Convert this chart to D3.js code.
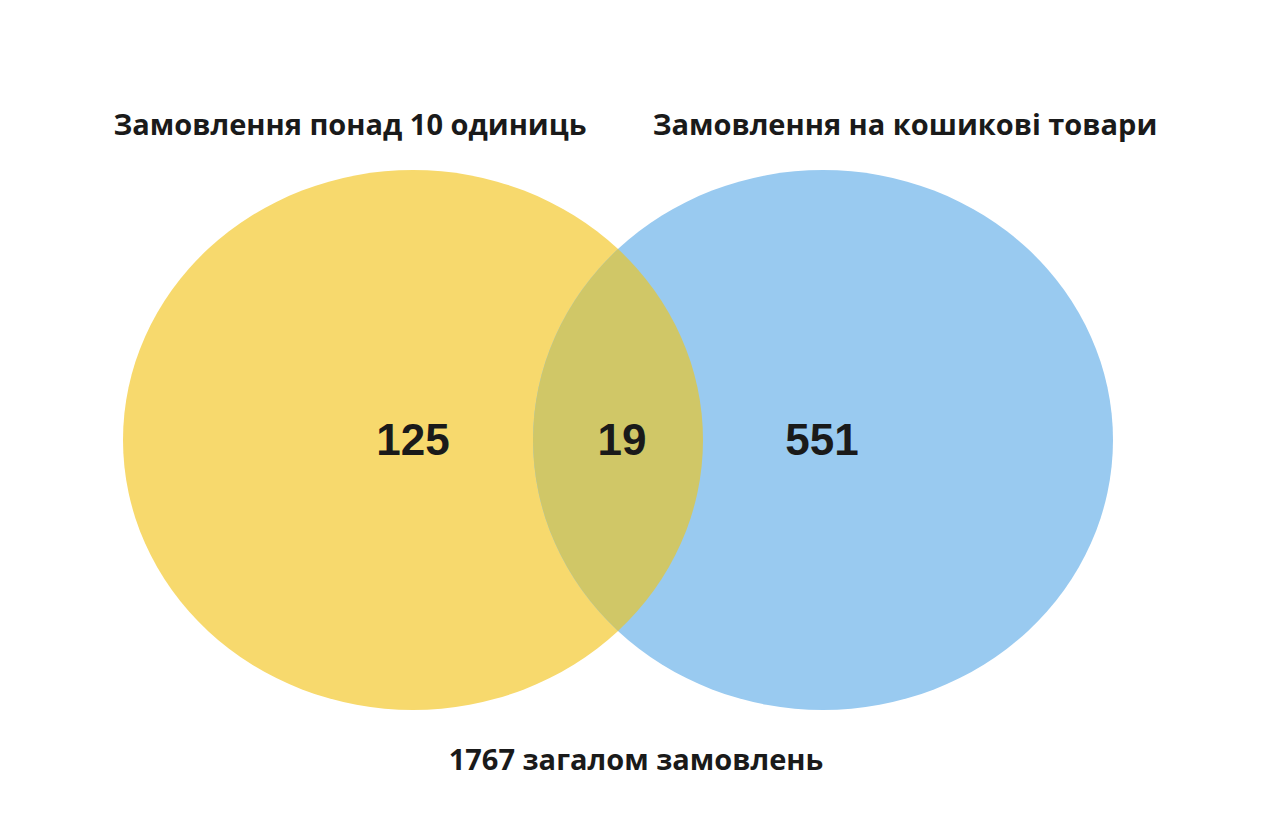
<!DOCTYPE html>
<html><head><meta charset="utf-8">
<script src="https://cdn.jsdelivr.net/npm/d3@7"></script>
<style>body{margin:0;background:#fff}</style></head>
<body><svg id="c" width="1272" height="832"></svg>
<script>
const setNames = ["Замовлення понад 10 одиниць", "Замовлення на кошикові товари"];
const regionValues = [125, 19, 551]; // left only, both, right only
const totalLabel = "1767 загалом замовлень";
const setColors = ["#f7d96d", "#99caf0"];
const overlapColor = "#d0c767";

const svg = d3.select("#c");
const x = d3.scaleLinear().domain([0, 1]).range([413, 823]);
const rx = 290, ry = 270, cy = 440;

const defs = svg.append("defs");
defs.append("clipPath").attr("id", "clipL").append("ellipse")
  .attr("cx", x(0)).attr("cy", cy).attr("rx", rx).attr("ry", ry);

svg.selectAll("ellipse.set").data(setNames).join("ellipse").attr("class", "set")
  .attr("cx", (d, i) => x(i)).attr("cy", cy).attr("rx", rx).attr("ry", ry)
  .attr("fill", (d, i) => setColors[i]);
svg.append("ellipse").attr("clip-path", "url(#clipL)")
  .attr("cx", x(1)).attr("cy", cy).attr("rx", rx).attr("ry", ry).attr("fill", overlapColor);

const tx = [350, 905];
svg.selectAll("text.title").data(setNames).join("text").attr("class", "title")
  .attr("x", (d, i) => tx[i]).attr("y", 135).attr("text-anchor", "middle")
  .attr("font-family", "Open Sans").attr("font-weight", 700).attr("font-size", 29)
  .attr("fill", "#1a1a1a").text(d => d);

const vx = [413, 622, 822];
svg.selectAll("text.val").data(regionValues).join("text").attr("class", "val")
  .attr("x", (d, i) => vx[i]).attr("y", 455).attr("text-anchor", "middle")
  .attr("font-family", "Liberation Sans").attr("font-weight", 700).attr("font-size", 44)
  .attr("fill", "#1a1a1a").text(d => d);

svg.append("text").attr("x", 636).attr("y", 770).attr("text-anchor", "middle")
  .attr("font-family", "Open Sans").attr("font-weight", 700).attr("font-size", 29)
  .attr("fill", "#1a1a1a").text(totalLabel);
</script></body></html>
